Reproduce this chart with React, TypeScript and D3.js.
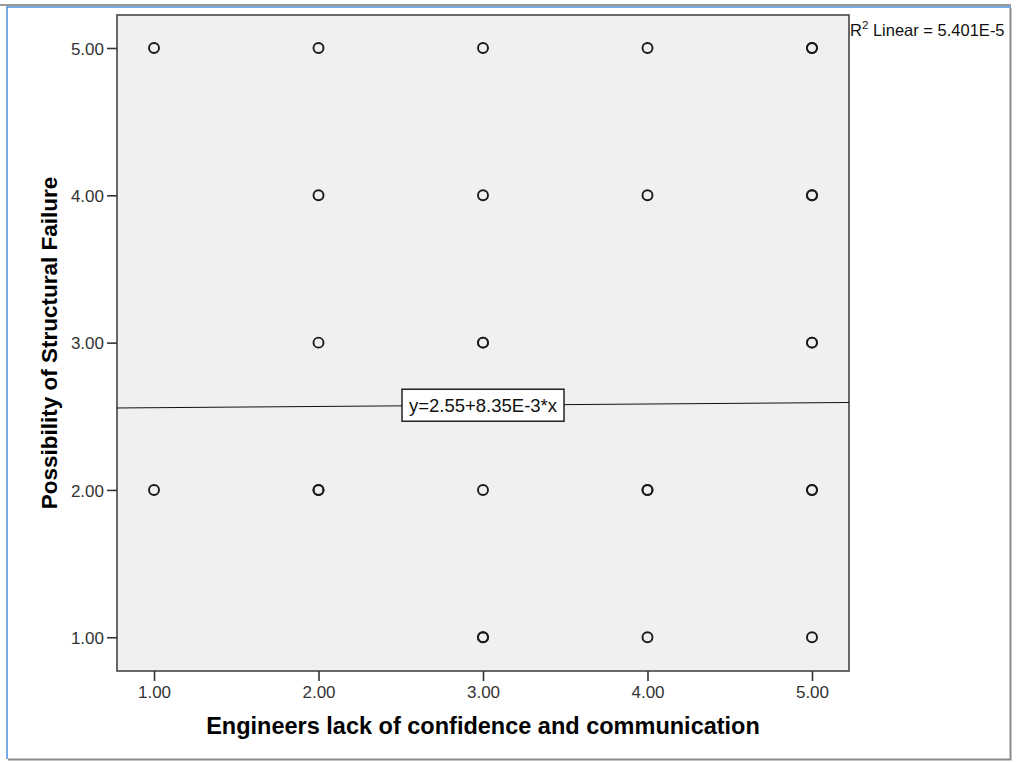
import React, { useEffect, useRef } from "react";
import * as d3 from "d3";

// Engineers lack of confidence (x) vs possibility of structural failure (y)
// repeated pairs are listed more than once so overlapping markers look heavier
const xValues = [1, 1, 2, 2, 2, 2, 2, 3, 3, 3, 3, 3, 3, 3, 4, 4, 4, 4, 4, 5, 5, 5, 5, 5, 5, 5, 5, 5];
const yValues = [5, 2, 5, 4, 3, 2, 2, 5, 4, 3, 3, 2, 1, 1, 5, 4, 2, 2, 1, 5, 5, 4, 4, 3, 3, 2, 2, 1];
const tickValues = [1, 2, 3, 4, 5];
const fitIntercept = 2.55;
const fitSlope = 8.35e-3;
const fitLabel = "y=2.55+8.35E-3*x";
const r2Text = "5.401E-5";

const App = () => {
  const svgRef = useRef<SVGSVGElement>(null);

  useEffect(() => {
    const svg = d3.select(svgRef.current);
    svg.selectAll("*").remove();

    const W = 1016;
    const H = 762;
    const plot = { left: 117, top: 15, right: 849, bottom: 671 };
    const font = "'Liberation Sans', Arial, sans-serif";

    svg.attr("width", W).attr("height", H).style("font-family", font);

    // window frame
    svg.append("rect").attr("width", W).attr("height", H).attr("fill", "#fff");
    svg.append("line").attr("x1", 0).attr("x2", 1011).attr("y1", 5).attr("y2", 5)
      .attr("stroke", "#9a9a9a").attr("stroke-width", 2);
    svg.append("path").attr("d", "M7,759V7H1011")
      .attr("fill", "none").attr("stroke", "#4a8fdc").attr("stroke-width", 1.5);
    svg.append("path").attr("d", "M8,759.5H1010.5V8")
      .attr("fill", "none").attr("stroke", "#8a8a8a").attr("stroke-width", 2);

    const x = d3.scaleLinear().domain([0.775, 5.225]).range([plot.left, plot.right]);
    const y = d3.scaleLinear().domain([0.771, 5.224]).range([plot.bottom, plot.top]);

    svg.append("rect")
      .attr("x", plot.left).attr("y", plot.top)
      .attr("width", plot.right - plot.left).attr("height", plot.bottom - plot.top)
      .attr("fill", "#f0f0f0").attr("stroke", "#444").attr("stroke-width", 1.6);

    const xAxis = svg.append("g")
      .attr("transform", `translate(0,${plot.bottom})`)
      .call(d3.axisBottom(x).tickValues(tickValues).tickFormat(d3.format(".2f")).tickSize(10).tickSizeOuter(0));
    const yAxis = svg.append("g")
      .attr("transform", `translate(${plot.left},0)`)
      .call(d3.axisLeft(y).tickValues(tickValues).tickFormat(d3.format(".2f")).tickSize(10).tickSizeOuter(0));

    [xAxis, yAxis].forEach((g) => {
      g.select(".domain").remove();
      g.attr("font-size", null).attr("font-family", null);
      g.selectAll("line").attr("stroke", "#333").attr("stroke-width", 1.6);
      g.selectAll("text").attr("fill", "#333").style("font-size", "17px").style("font-family", font);
    });
    xAxis.selectAll("text").attr("y", 15).attr("dy", "0.71em");
    yAxis.selectAll("text").attr("x", -13).attr("dy", "0.36em");

    // fit line across the whole plot area
    const [d0, d1] = x.domain();
    const fit = (v: number) => fitIntercept + fitSlope * v;
    svg.append("line")
      .attr("x1", x(d0)).attr("x2", x(d1))
      .attr("y1", y(fit(d0))).attr("y2", y(fit(d1)))
      .attr("stroke", "#111").attr("stroke-width", 1);

    svg.append("g")
      .selectAll("circle")
      .data(xValues.map((v, i) => [v, yValues[i]]))
      .join("circle")
      .attr("cx", (d) => x(d[0]))
      .attr("cy", (d) => y(d[1]))
      .attr("r", 5)
      .attr("fill", "none")
      .attr("stroke", "#1a1a1a")
      .attr("stroke-width", 1.9);

    // equation label box
    const labelX = 483;
    const labelY = y(fit(x.invert(labelX)));
    const lbl = svg.append("g").attr("transform", `translate(${labelX},${labelY})`);
    lbl.append("rect").attr("x", -81).attr("y", -16).attr("width", 162).attr("height", 32)
      .attr("fill", "#fff").attr("stroke", "#222").attr("stroke-width", 1.5);
    lbl.append("text").attr("text-anchor", "middle").attr("dy", "0.36em")
      .style("font-size", "18.5px").attr("fill", "#111").text(fitLabel);

    // R squared note
    const r2 = svg.append("text").attr("x", 850).attr("y", 36)
      .style("font-size", "16.5px").attr("fill", "#111");
    r2.append("tspan").text("R");
    r2.append("tspan").attr("dy", -7).style("font-size", "11.5px").text("2");
    r2.append("tspan").attr("dy", 7).text(` Linear = ${r2Text}`);

    svg.append("text")
      .attr("x", 483).attr("y", 734)
      .attr("text-anchor", "middle")
      .style("font-size", "23.5px").style("font-weight", "bold")
      .text("Engineers lack of confidence and communication");

    svg.append("text")
      .attr("transform", `translate(57,${(plot.top + plot.bottom) / 2}) rotate(-90)`)
      .attr("text-anchor", "middle")
      .style("font-size", "22.5px").style("font-weight", "bold")
      .text("Possibility of Structural Failure");
  }, []);

  return <svg ref={svgRef} style={{ position: "absolute", left: 0, top: 0 }}></svg>;
};

export default App;
